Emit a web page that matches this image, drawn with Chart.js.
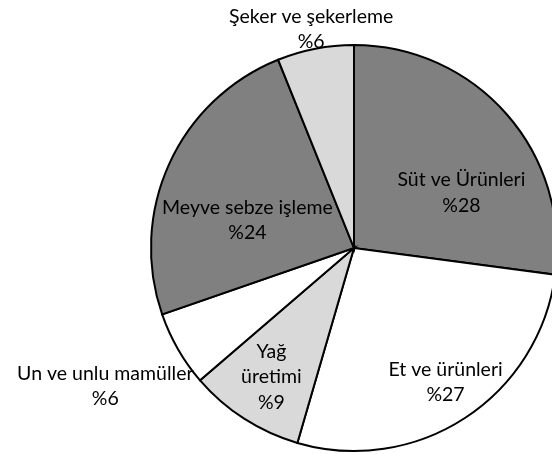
<!DOCTYPE html>
<html>
<head>
<meta charset="utf-8">
<script src="https://cdn.jsdelivr.net/npm/chart.js@4/dist/chart.umd.min.js"></script>
<style>
  html, body { margin: 0; padding: 0; background: #fff; overflow: hidden; }
  #wrap { width: 552px; height: 454px; overflow: hidden; }
</style>
</head>
<body>
<div id="wrap"><canvas id="pie" width="560" height="454"></canvas></div>
<script>
const categories = [
    'Süt ve Ürünleri',
    'Et ve ürünleri',
    ['Yağ', 'üretimi'],
    'Un ve unlu mamüller',
    'Meyve sebze işleme',
    'Şeker ve şekerleme'
];
const shares = [27.1, 27.4, 9.2, 6.0, 24.2, 6.1];
const percentLabels = ['%28', '%27', '%9', '%6', '%24', '%6'];
const sliceColors = ['#808080', '#ffffff', '#d9d9d9', '#ffffff', '#808080', '#d9d9d9'];

// label centres, as fractions of the radius from the pie centre
const labelOffsets = [
    [0.529, -0.272],
    [0.451, 0.66],
    [-0.407, 0.635],
    [-1.225, 0.68],
    [-0.525, -0.137],
    [-0.211, -1.078]
];

const pieLabels = {
    id: 'pieLabels',
    afterDatasetsDraw(chart) {
        const ctx = chart.ctx;
        const arcs = chart.getDatasetMeta(0).data;
        ctx.save();
        ctx.font = '19.5px Lato, "Open Sans", sans-serif';
        ctx.fillStyle = '#000';
        ctx.textAlign = 'center';
        ctx.textBaseline = 'middle';
        const lineH = 25.5;
        arcs.forEach((arc, i) => {
            const name = categories[i];
            const lines = (Array.isArray(name) ? name : [name]).concat(percentLabels[i]);
            const r = arc.outerRadius;
            const cx = arc.x + labelOffsets[i][0] * r;
            const cy = arc.y + labelOffsets[i][1] * r;
            const top = cy - (lines.length - 1) * lineH / 2;
            lines.forEach((t, j) => ctx.fillText(t, cx, top + j * lineH));
        });
        ctx.restore();
    }
};

new Chart(document.getElementById('pie').getContext('2d'), {
    type: 'pie',
    data: {
        labels: categories,
        datasets: [{
            data: shares,
            backgroundColor: sliceColors,
            borderColor: '#000',
            borderWidth: 2,
            borderJoinStyle: 'miter'
        }]
    },
    options: {
        responsive: false,
        animation: false,
        layout: { padding: { left: 150, right: 2, top: 44, bottom: 2 } },
        plugins: {
            legend: { display: false },
            tooltip: { enabled: false }
        }
    },
    plugins: [pieLabels]
});
</script>
</body>
</html>
